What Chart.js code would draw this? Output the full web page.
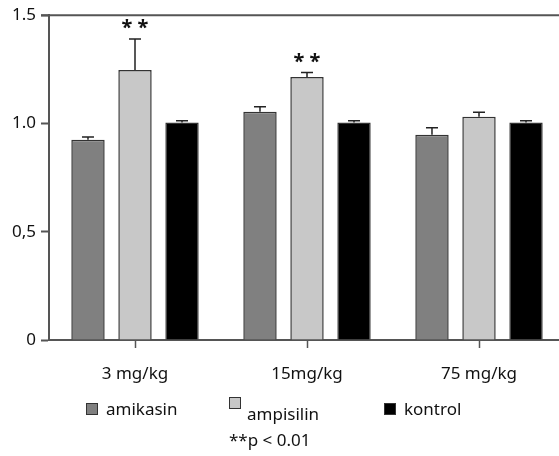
<!DOCTYPE html>
<html>
<head>
<meta charset="utf-8">
<script src="https://cdn.jsdelivr.net/npm/chart.js@4.4.0/dist/chart.umd.min.js"></script>
<style>
html, body { margin: 0; padding: 0; background: #fff; overflow: hidden; }
#wrap { position: relative; width: 575px; height: 456px; }
</style>
</head>
<body>
<div id="wrap"><canvas id="myChart"></canvas></div>
<script>
const doses = ['3 mg/kg', '15mg/kg', '75 mg/kg'];
const amikasin = [0.925, 1.054, 0.948];
const amikasinErr = [0.012, 0.023, 0.032];
const ampisilin = [1.247, 1.215, 1.031];
const ampisilinErr = [0.143, 0.02, 0.021];
const kontrol = [1.005, 1.005, 1.005];
const kontrolErr = [0.008, 0.008, 0.008];
const ampisilinSig = ['**', '**', ''];
const yTicks = [0, 0.5, 1.0, 1.5];
const yTickLabels = ['0', '0,5', '1.0', '1.5'];
const note = '**p < 0.01';

const FONT = '"Noto Sans", sans-serif';

// error bars + significance stars + top frame line
const extras = {
    id: 'extras',
    afterDatasetsDraw(chart) {
        const ctx = chart.ctx;
        const y = chart.scales.y;
        const area = chart.chartArea;
        ctx.save();
        ctx.strokeStyle = '#555';
        ctx.lineWidth = 2;
        ctx.beginPath();
        ctx.moveTo(area.left - 8, area.top);
        ctx.lineTo(chart.width, area.top);
        ctx.stroke();

        ctx.strokeStyle = '#222';
        ctx.lineWidth = 1.5;
        chart.data.datasets.forEach((ds, i) => {
            const meta = chart.getDatasetMeta(i);
            meta.data.forEach((bar, j) => {
                const top = y.getPixelForValue(ds.data[j] + ds.err[j]);
                ctx.beginPath();
                ctx.moveTo(bar.x, bar.y);
                ctx.lineTo(bar.x, top);
                ctx.moveTo(bar.x - 6, top);
                ctx.lineTo(bar.x + 6, top);
                ctx.stroke();
                if (ds.sig && ds.sig[j]) {
                    ctx.fillStyle = '#111';
                    ctx.font = 'bold 20px ' + FONT;
                    ctx.textAlign = 'center';
                    ctx.textBaseline = 'alphabetic';
                    ctx.fillText(ds.sig[j].split('').join(' '), bar.x, top - 5);
                }
            });
        });
        ctx.restore();
    },
    afterDraw(chart) {
        const ctx = chart.ctx;
        const spots = [
            { bx: 86, by: 403, tx: 106, ty: 415 },
            { bx: 229, by: 397, tx: 247, ty: 420 },
            { bx: 384, by: 403, tx: 404, ty: 415 }
        ];
        ctx.save();
        ctx.font = '17px ' + FONT;
        ctx.textAlign = 'left';
        ctx.textBaseline = 'alphabetic';
        chart.data.datasets.forEach((ds, i) => {
            const s = spots[i];
            ctx.fillStyle = ds.backgroundColor;
            ctx.fillRect(s.bx, s.by, 12, 12);
            ctx.strokeStyle = '#333';
            ctx.lineWidth = 1;
            ctx.strokeRect(s.bx + 0.5, s.by + 0.5, 11, 11);
            ctx.fillStyle = '#111';
            ctx.fillText(ds.label, s.tx, s.ty);
        });
        ctx.fillText(note, 229, 446);
        ctx.restore();
    }
};

const ctx = document.getElementById('myChart').getContext('2d');
const myChart = new Chart(ctx, {
    type: 'bar',
    data: {
        labels: doses,
        datasets: [
            { label: 'amikasin', data: amikasin, err: amikasinErr, backgroundColor: '#808080' },
            { label: 'ampisilin', data: ampisilin, err: ampisilinErr, sig: ampisilinSig, backgroundColor: '#c8c8c8' },
            { label: 'kontrol', data: kontrol, err: kontrolErr, backgroundColor: '#000000' }
        ].map(d => Object.assign(d, {
            borderColor: '#333',
            borderWidth: 1.5,
            categoryPercentage: 0.82,
            barPercentage: 0.71
        }))
    },
    options: {
        responsive: true,
        maintainAspectRatio: false,
        animation: false,
        layout: { padding: { top: 12, right: 10, bottom: 72, left: 0 } },
        plugins: {
            legend: { display: false },
            tooltip: { enabled: false }
        },
        scales: {
            x: {
                afterFit: s => { s.height = 44; },
                border: { display: true, color: '#555', width: 2 },
                grid: { display: true, drawOnChartArea: false, offset: false, tickLength: 8, tickColor: '#555', tickWidth: 1.5 },
                ticks: { color: '#111', font: { family: FONT, size: 17 }, padding: 16 }
            },
            y: {
                min: 0,
                max: 1.5,
                afterFit: s => { s.width = 49; },
                afterBuildTicks: s => { s.ticks = yTicks.map(v => ({ value: v })); },
                border: { display: true, color: '#555', width: 2 },
                grid: { display: true, drawOnChartArea: false, tickLength: 8, tickColor: '#555', tickWidth: 2 },
                ticks: {
                    color: '#111',
                    font: { family: FONT, size: 17 },
                    padding: 5,
                    callback: v => yTickLabels[yTicks.indexOf(v)]
                }
            }
        }
    },
    plugins: [extras]
});
</script>
</body>
</html>
